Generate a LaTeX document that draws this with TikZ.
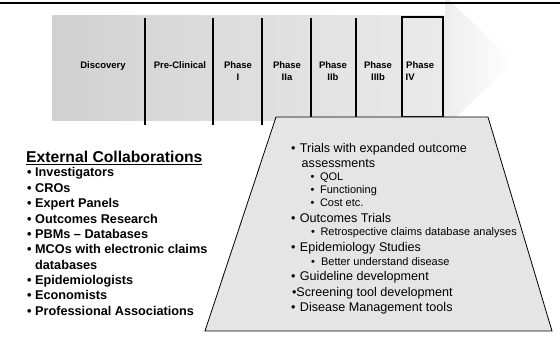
\documentclass[tikz,border=0pt]{standalone}
\usepackage{fontspec}
\setmainfont{Liberation Sans}
\begin{document}
\begin{tikzpicture}[x=1pt,y=-1pt,
  phaselbl/.style={font=\bfseries\fontsize{9.5}{11}\selectfont, inner sep=0pt, anchor=base},
  phaselblw/.style={font=\bfseries\fontsize{9.5}{11}\selectfont, inner sep=0pt, anchor=base west},
  collhead/.style={font=\bfseries\fontsize{15.7}{18}\selectfont, inner sep=0pt, anchor=base west},
  collitem/.style={font=\bfseries\fontsize{12.7}{15}\selectfont, inner sep=0pt, anchor=base west},
  mainitem/.style={font=\fontsize{12.6}{15}\selectfont, inner sep=0pt, anchor=base west},
  subitem/.style={font=\fontsize{11}{13}\selectfont, inner sep=0pt, anchor=base west},
  divider/.style={line width=1.3pt, black},
  boxline/.style={line width=2pt, black},
  trap/.style={draw=black, line width=0.8pt, fill=black!10},
]
\useasboundingbox (0,0) rectangle (560,352);
% gradient arrow
\shade[left color=black!18, right color=black!8] (52,16) rectangle (445,121);
\shade[left color=black!7, right color=white] (445,-4) -- (514,62) -- (445,128) -- cycle;
% top rule
\draw[line width=2pt] (0,3) -- (560,3);
% dividers
\foreach \x/\n in {145/d1,213/d2,262/d3,311/d4,356/d5}{
  \coordinate (\n t) at (\x,18);
  \coordinate (\n b) at (\x,125);
  \draw[divider] (\n t) -- (\n b);
}
% Phase IV box
\coordinate (p4a) at (401.5,17.5);
\coordinate (p4b) at (443,117);
\draw[boxline] (p4a) rectangle (p4b);
% phase labels
\node[phaselbl] (disc) at (103,68.1) {Discovery};
\node[phaselbl] (prec) at (180,68.1) {Pre-Clinical};
\node[phaselbl] (p1a) at (238,68.1) {Phase};
\node[phaselbl] (p1b) at (238,80.1) {I};
\node[phaselbl] (p2a) at (287,68.1) {Phase};
\node[phaselbl] (p2b) at (287,80.1) {IIa};
\node[phaselbl] (p3a) at (333,68.1) {Phase};
\node[phaselbl] (p3b) at (333,80.1) {IIb};
\node[phaselbl] (p5a) at (378,68.1) {Phase};
\node[phaselbl] (p5b) at (378,80.1) {IIIb};
\node[phaselblw] (p6a) at (406,68.1) {Phase};
\node[phaselblw] (p6b) at (405.5,80.1) {IV};
% trapezoid
\draw[trap] (276,117) -- (488,117) -- (552,331) -- (205,331) -- cycle;
% left list
\node[collhead] (hd) at (26,162.5) {\underline{External Collaborations}};
\foreach \t [count=\i from 0] in {{• Investigators},{• CROs},{• Expert Panels},{• Outcomes Research},{• PBMs – Databases},{• MCOs with electronic claims},{\hphantom{• }databases},{• Epidemiologists},{• Economists},{• Professional Associations}}{
  \node[collitem] (c\i) at (27,177+15.37*\i) {\t};
}
% trapezoid text
\node[mainitem] (t1) at (290.8,152.2) {•\hspace{4.5pt}Trials with expanded outcome};
\node[mainitem] (t2) at (301.5,167.2) {assessments};
\node[subitem] (t3) at (310.5,180.6) {•\hspace{5.5pt}QOL};
\node[subitem] (t4) at (310.5,193.6) {•\hspace{5.5pt}Functioning};
\node[subitem] (t5) at (310.5,206.6) {•\hspace{5.5pt}Cost etc.};
\node[mainitem] (t6) at (290.8,222.2) {•\hspace{4.5pt}Outcomes Trials};
\node[subitem] (t7) at (311,235.6) {•\hspace{5.5pt}Retrospective claims database analyses};
\node[mainitem] (t8) at (290.8,251.2) {•\hspace{4.5pt}Epidemiology Studies};
\node[subitem] (t9) at (311,265.6) {•\hspace{6pt}Better understand disease};
\node[mainitem] (t10) at (290.8,280.2) {•\hspace{4.5pt}Guideline development};
\node[mainitem] (t11) at (291.8,296.2) {•Screening tool development};
\node[mainitem] (t12) at (290.8,311.2) {•\hspace{4.5pt}Disease Management tools};
\end{tikzpicture}
\end{document}
